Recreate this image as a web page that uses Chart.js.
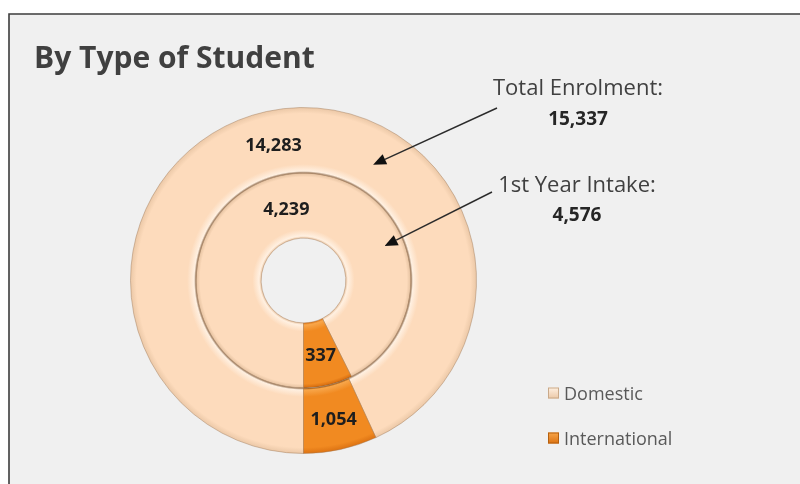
<!DOCTYPE html>
<html>
<head>
<meta charset="utf-8">
<title>By Type of Student</title>
<script src="https://cdn.jsdelivr.net/npm/chart.js@4.4.1/dist/chart.umd.min.js"></script>
<style>
  html, body { margin: 0; padding: 0; background: #ffffff; }
  #wrap { position: relative; width: 800px; height: 484px; }
  canvas { display: block; }
</style>
</head>
<body>
<div id="wrap"><canvas id="chart" width="800" height="484"></canvas></div>
<script>
// Student counts by type: outer ring = total enrolment, inner ring = 1st year intake
const categories = ['Domestic', 'International'];
const totalEnrolment = [14283, 1054];
const firstYearIntake = [4239, 337];
const ringTitles = ['Total Enrolment:', '1st Year Intake:'];
const chartTitle = 'By Type of Student';

const FONT = '"Open Sans", "DejaVu Sans", sans-serif';
const CUTOUT = 0.245;

const sum = arr => arr.reduce((a, b) => a + b, 0);
const fmt = v => v.toLocaleString('en-US');

// Radial shading that gives each ring a soft bevelled look
function ringGradient(chart, palette) {
  const area = chart.chartArea;
  if (!area) return palette.base;
  const cx = (area.left + area.right) / 2;
  const cy = (area.top + area.bottom) / 2;
  const R = (Math.min(area.width, area.height) - 1) / 2;
  const h = CUTOUT;
  const mid = h + (1 - h) / 2;
  const g = chart.ctx.createRadialGradient(cx, cy, 0, cx, cy, R);
  g.addColorStop(0, palette.base);
  g.addColorStop(h, palette.dark);
  g.addColorStop(h + 0.012, palette.light);
  g.addColorStop(h + 0.05, palette.base);
  g.addColorStop(mid - 0.025, palette.base);
  g.addColorStop(mid - 0.008, palette.dark);
  g.addColorStop(mid, palette.shadow);
  g.addColorStop(mid + 0.01, palette.light);
  g.addColorStop(mid + 0.05, palette.base);
  g.addColorStop(0.965, palette.base);
  g.addColorStop(1, palette.dark);
  return g;
}

const palettes = [
  { base: '#fddbbc', light: '#fff0e1', dark: '#ebc8a7', shadow: '#a98c72' },
  { base: '#f18a21', light: '#f8a64a', dark: '#dc7212', shadow: '#9b5410' }
];

// Page background, framed panel and the title
const panelPlugin = {
  id: 'panel',
  beforeDraw(chart) {
    const ctx = chart.ctx;
    ctx.save();
    ctx.fillStyle = '#ffffff';
    ctx.fillRect(0, 0, chart.width, chart.height);
    ctx.fillStyle = '#f0f0f0';
    ctx.fillRect(9, 14, chart.width - 9, chart.height - 14);
    ctx.strokeStyle = '#3c3c3c';
    ctx.lineWidth = 1.6;
    ctx.beginPath();
    ctx.moveTo(9, chart.height);
    ctx.lineTo(9, 14);
    ctx.lineTo(chart.width, 14);
    ctx.stroke();
    ctx.fillStyle = '#404040';
    ctx.font = 'bold 30px ' + FONT;
    ctx.textBaseline = 'alphabetic';
    ctx.textAlign = 'left';
    ctx.fillText(chartTitle, 34, 68);
    ctx.restore();
  }
};

// Value labels in the middle of every slice
const sliceLabelPlugin = {
  id: 'sliceLabels',
  afterDatasetsDraw(chart) {
    const ctx = chart.ctx;
    ctx.save();
    ctx.font = 'bold 18px ' + FONT;
    ctx.fillStyle = '#1e1e1e';
    ctx.textAlign = 'center';
    ctx.textBaseline = 'middle';
    chart.data.datasets.forEach((ds, di) => {
      chart.getDatasetMeta(di).data.forEach((arc, i) => {
        const p = arc.getProps(['x', 'y', 'startAngle', 'endAngle', 'innerRadius', 'outerRadius'], true);
        const a = (p.startAngle + p.endAngle) / 2;
        const r = (p.innerRadius + p.outerRadius) / 2;
        ctx.fillText(fmt(ds.data[i]), p.x + Math.cos(a) * r, p.y + Math.sin(a) * r + 2);
      });
    });
    ctx.restore();
  }
};

// Ring totals with arrows pointing into each ring
const calloutPlugin = {
  id: 'callouts',
  afterDraw(chart) {
    const ctx = chart.ctx;
    const callouts = [
      { ds: 0, textX: 578, titleY: 95, valueY: 125, from: [497, 108], angle: 31, frac: 0.42 },
      { ds: 1, textX: 577, titleY: 192, valueY: 221, from: [492, 192], angle: 67, frac: 0.70 }
    ];
    ctx.save();
    callouts.forEach(c => {
      const ds = chart.data.datasets[c.ds];
      ctx.textAlign = 'center';
      ctx.textBaseline = 'alphabetic';
      ctx.fillStyle = '#404040';
      ctx.font = '22px ' + FONT;
      ctx.fillText(ringTitles[c.ds], c.textX, c.titleY);
      ctx.fillStyle = '#262626';
      ctx.font = 'bold 19px ' + FONT;
      ctx.fillText(fmt(sum(ds.data)), c.textX, c.valueY);

      // arrow tip sits inside the ring it refers to
      const arc = chart.getDatasetMeta(c.ds).data[0];
      const p = arc.getProps(['x', 'y', 'innerRadius', 'outerRadius'], true);
      const r = p.innerRadius + (p.outerRadius - p.innerRadius) * c.frac;
      const t = (c.angle - 90) * Math.PI / 180;
      const tx = p.x + Math.cos(t) * r;
      const ty = p.y + Math.sin(t) * r;
      const [fx, fy] = c.from;
      const ang = Math.atan2(ty - fy, tx - fx);
      const head = 13, half = 5.5;
      const bx = tx - Math.cos(ang) * head, by = ty - Math.sin(ang) * head;
      ctx.strokeStyle = '#2b2b2b';
      ctx.fillStyle = '#111111';
      ctx.lineWidth = 1.4;
      ctx.beginPath();
      ctx.moveTo(fx, fy);
      ctx.lineTo(bx, by);
      ctx.stroke();
      ctx.beginPath();
      ctx.moveTo(tx, ty);
      ctx.lineTo(bx + Math.sin(ang) * half, by - Math.cos(ang) * half);
      ctx.lineTo(bx - Math.sin(ang) * half, by + Math.cos(ang) * half);
      ctx.closePath();
      ctx.fill();
    });
    ctx.restore();
  }
};

// Category legend in the lower right
const legendPlugin = {
  id: 'sideLegend',
  afterDraw(chart) {
    const ctx = chart.ctx;
    const items = chart.data.labels;
    const x = 548, y0 = 393, gap = 45, s = 11;
    ctx.save();
    ctx.font = '18px ' + FONT;
    ctx.textAlign = 'left';
    ctx.textBaseline = 'middle';
    items.forEach((label, i) => {
      const y = y0 + i * gap;
      const pal = palettes[i];
      const g = ctx.createLinearGradient(x, y - s / 2, x, y + s / 2);
      g.addColorStop(0, pal.light);
      g.addColorStop(1, pal.dark);
      ctx.fillStyle = g;
      ctx.fillRect(x, y - s / 2, s, s);
      ctx.strokeStyle = i === 0 ? '#c9a989' : '#b5600f';
      ctx.lineWidth = 1;
      ctx.strokeRect(x + 0.5, y - s / 2 + 0.5, s - 1, s - 1);
      ctx.fillStyle = '#595959';
      ctx.fillText(label, x + s + 5, y + 2);
    });
    ctx.restore();
  }
};

const ringStyle = {
  backgroundColor: ctx => ringGradient(ctx.chart, palettes[ctx.dataIndex]),
  borderColor: 'rgba(160, 120, 85, 0.45)',
  borderWidth: 1,
  hoverOffset: 0
};

new Chart(document.getElementById('chart'), {
  type: 'doughnut',
  data: {
    labels: categories,
    datasets: [
      Object.assign({ label: ringTitles[0], data: totalEnrolment }, ringStyle),
      Object.assign({ label: ringTitles[1], data: firstYearIntake }, ringStyle)
    ]
  },
  options: {
    responsive: false,
    animation: false,
    rotation: 180,
    cutout: (CUTOUT * 100) + '%',
    layout: { padding: { left: 130, top: 107, right: 323, bottom: 30 } },
    plugins: {
      legend: { display: false },
      title: { display: false },
      tooltip: { enabled: false }
    }
  },
  plugins: [panelPlugin, sliceLabelPlugin, calloutPlugin, legendPlugin]
});
</script>
</body>
</html>
